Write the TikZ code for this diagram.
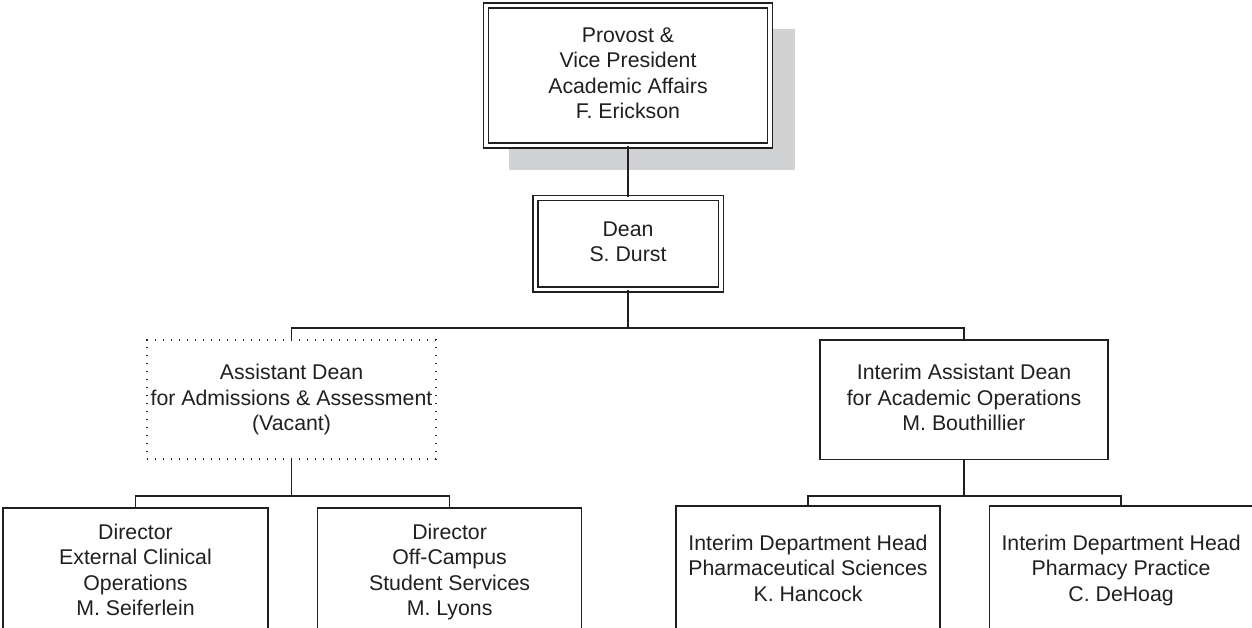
\documentclass[tikz,border=0pt]{standalone}
\usepackage{fontspec}
\setmainfont{Liberation Sans}
\usepackage{tikz}
\usetikzlibrary{positioning,backgrounds}
\definecolor{ink}{RGB}{35,31,32}
\definecolor{shadowgray}{RGB}{209,210,212}

\begin{document}
\begin{tikzpicture}[x=1pt,y=1pt,align=center,
		every node/.style={font=\fontsize{21.3}{25.5}\selectfont,text=ink,execute at end node=\vphantom{y}},
		unit/.style={draw=ink,line width=1.6pt,inner sep=0pt,fill=white},
		chief/.style={draw=ink,double,line width=1.5pt,double distance=3.5pt,inner sep=0pt,fill=white},
		vacant/.style={draw=ink,line width=1.3pt,dash pattern=on 1.3pt off 6.7pt,inner sep=0pt},
		link/.style={draw=ink,line width=1.6pt}]
			\useasboundingbox (0,0) rectangle (1252,-627);
			\node[chief,minimum width=284,minimum height=140] (provost) at (628,-75.5) {Provost \&\\Vice President\\Academic Affairs\\F. Erickson};
			\node[chief,minimum width=185.5,minimum height=91.5] (dean) at (628,-243.75) {Dean\\S. Durst};
			\node[vacant,minimum width=289,minimum height=119] (ad_adm) at (291.5,-399.5) {Assistant Dean\\for Admissions \& Assessment\\(Vacant)};
			\node[unit,minimum width=288,minimum height=119.5] (ad_ops) at (964,-399.75) {Interim Assistant Dean\\for Academic Operations\\M. Bouthillier};
			\node[unit,minimum width=265,minimum height=128] (dir_ext) at (135.5,-572) {Director\\External Clinical\\Operations\\M. Seiferlein};
			\node[unit,minimum width=264,minimum height=128] [right=48 of dir_ext] (dir_off) {Director\\Off-Campus\\Student Services\\M. Lyons};
			\node[unit,minimum width=264,minimum height=128] (head_ps) at (808,-570) {Interim Department Head\\Pharmaceutical Sciences\\K. Hancock};
			\node[unit,minimum width=263,minimum height=128] [right=48 of head_ps] (head_pp) {Interim Department Head\\Pharmacy Practice\\C. DeHoag};
			% shadow behind the provost box
			\begin{pgfonlayer}{background}
				\fill[shadowgray] ([shift={(24,-24)}]provost.south west) rectangle ([shift={(24,-24)}]provost.north east);
			\end{pgfonlayer}
			\coordinate (bus_1) at (0,-328);
			\coordinate (bus_2) at (0,-496);
			\path[link]
				(provost.south) -- (dean.north)
				(dean.south) -- (dean.south |- bus_1) -| (ad_adm.north)
				(dean.south |- bus_1) -| (ad_ops.north)
				(ad_adm.south) -- (ad_adm.south |- bus_2) -| (dir_ext.north)
				(ad_adm.south |- bus_2) -| (dir_off.north)
				(ad_ops.south) -- (ad_ops.south |- bus_2) -| (head_ps.north)
				(ad_ops.south |- bus_2) -| (head_pp.north);
		\end{tikzpicture}
\end{document}
